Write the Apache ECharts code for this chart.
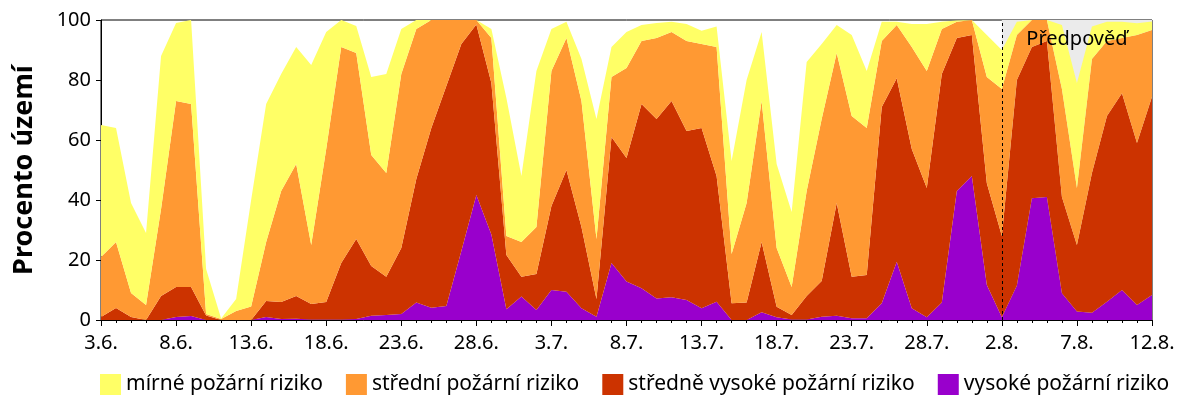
<!DOCTYPE html>
<html>
<head>
<meta charset="utf-8">
<script src="https://cdn.jsdelivr.net/npm/echarts@6/dist/echarts.min.js"></script>
<style>
  html, body { margin: 0; padding: 0; background: #fff; }
  #chart { width: 1200px; height: 400px; }
</style>
</head>
<body>
<div id="chart"></div>
<script>
// dny 3.6. - 12.8.
const days = [
  '3.6.', '4.6.', '5.6.', '6.6.', '7.6.', '8.6.', '9.6.', '10.6.', '11.6.', '12.6.',
  '13.6.', '14.6.', '15.6.', '16.6.', '17.6.', '18.6.', '19.6.', '20.6.', '21.6.', '22.6.',
  '23.6.', '24.6.', '25.6.', '26.6.', '27.6.', '28.6.', '29.6.', '30.6.', '1.7.', '2.7.',
  '3.7.', '4.7.', '5.7.', '6.7.', '7.7.', '8.7.', '9.7.', '10.7.', '11.7.', '12.7.',
  '13.7.', '14.7.', '15.7.', '16.7.', '17.7.', '18.7.', '19.7.', '20.7.', '21.7.', '22.7.',
  '23.7.', '24.7.', '25.7.', '26.7.', '27.7.', '28.7.', '29.7.', '30.7.', '31.7.', '1.8.',
  '2.8.', '3.8.', '4.8.', '5.8.', '6.8.', '7.8.', '8.8.', '9.8.', '10.8.', '11.8.',
  '12.8.'
];

// procento uzemi v jednotlivych stupnich (skladane odspodu)
const vysoke = [
  0, 0, 0, 0, 0, 1, 1.3, 0, 0, 0,
  0, 1, 0.3, 0.4, 0.2, 0.2, 0.2, 0.3, 1.4, 1.7,
  2, 5.8, 4.1, 4.7, 23, 41.7, 28.5, 3.6, 7.8, 3.3,
  10, 9.4, 3.9, 1.1, 19, 12.8, 10.6, 7.2, 7.6, 6.7,
  3.9, 6.1, 0, 0, 2.6, 0.9, 0.2, 0.2, 1.1, 1.4,
  0.6, 0.6, 5.6, 19.4, 3.9, 0.9, 5.8, 43, 48, 11.7,
  0.9, 11.5, 40.6, 41, 8.9, 2.8, 2.4, 6.1, 10, 5,
  8.3
];
const stredneVysoke = [
  1, 4, 1, 0, 8, 10, 9.7, 1.5, 0, 0,
  0, 5.3, 5.7, 7.6, 5.1, 5.8, 18.8, 26.7, 16.6, 12.7,
  22, 41.2, 59.9, 73.3, 69, 56.8, 50.5, 18.1, 6.6, 12,
  28, 40.6, 27.1, 5.9, 42, 41.2, 61.4, 59.8, 65.4, 56.3,
  60.1, 41.9, 5.6, 5.8, 23.4, 3.5, 1.5, 7.8, 11.9, 37.6,
  13.8, 14.4, 65.4, 61.2, 53.1, 43.1, 76.2, 51, 47, 33.9,
  27.1, 68.5, 50.4, 52, 32.1, 22.2, 46.6, 61.9, 65.6, 54,
  66.1
];
const stredni = [
  20, 22, 8, 5, 29, 62, 61, 0.5, 0.3, 3,
  4.5, 19.7, 37, 44, 19.7, 51, 72, 62, 37, 34.6,
  58, 50, 36, 22, 8, 1.5, 15, 6.3, 11.6, 15.7,
  45, 44, 42, 20, 20, 30, 21, 27, 23, 30,
  28, 43, 16.4, 33.2, 47, 19.6, 9.3, 35, 54, 50,
  53.6, 49, 22, 17.7, 34, 39, 15, 5.4, 5, 35.4,
  49, 15, 9, 7, 36, 19, 38, 25, 18.4, 36,
  22.3
];
const mirne = [
  44, 38, 30, 24, 51, 26, 28, 15, 0.2, 4,
  35.5, 46, 39, 39, 60, 39, 9, 9, 26, 33,
  15, 3, 0, 0, 0, 0, 3, 46, 22, 52,
  14, 5.4, 14, 40, 10, 12, 5.3, 5, 3.4, 5.7,
  4.4, 6.8, 31, 41, 23, 28, 25, 43, 25, 9.3,
  27, 19, 6.4, 1.1, 7.7, 15.7, 2.4, 0.4, 0, 14,
  13, 4.4, 0, 0, 21.3, 35, 10.8, 6.4, 5.4, 3.9,
  2.8
];

const yTicks = [0, 20, 40, 60, 80, 100];
const forecastFrom = '2.8.';
const forecastTo = '12.8.';

const font = 'Noto Sans';

function areaSeries(name, data, color) {
  return {
    name: name,
    type: 'line',
    stack: 'uzemi',
    data: data,
    symbol: 'none',
    z: 2,
    lineStyle: { width: 0 },
    areaStyle: { color: color, opacity: 1 },
    itemStyle: { color: color },
    emphasis: { disabled: true }
  };
}

const chart = echarts.init(document.getElementById('chart'));
chart.setOption({
  animation: false,
  textStyle: { fontFamily: font },
  grid: {
    left: 101, right: 48, top: 20, bottom: 80,
    show: true, borderColor: '#000', borderWidth: 1, backgroundColor: 'transparent'
  },
  legend: {
    data: ['mírné požární riziko', 'střední požární riziko', 'středně vysoké požární riziko', 'vysoké požární riziko'],
    left: 95, bottom: 0,
    itemWidth: 21, itemHeight: 21, itemGap: 23,
    icon: 'rect',
    textStyle: { fontSize: 21, color: '#000', fontFamily: font }
  },
  xAxis: [
    {
      type: 'category',
      data: days,
      boundaryGap: false,
      axisLine: { lineStyle: { color: '#000', width: 1 } },
      axisTick: { interval: 0, length: 3, lineStyle: { color: '#000' } },
      axisLabel: { interval: 4, fontSize: 20, color: '#000', margin: 13 },
      splitLine: { show: false }
    },
    {
      type: 'category',
      data: days,
      boundaryGap: false,
      position: 'bottom',
      axisLine: { show: false },
      axisTick: { interval: 4, length: 6, lineStyle: { color: '#000' } },
      axisLabel: { show: false },
      splitLine: { show: false }
    }
  ],
  yAxis: {
    type: 'value',
    min: yTicks[0], max: yTicks[yTicks.length - 1], interval: 20,
    name: 'Procento území',
    nameLocation: 'middle',
    nameGap: 63,
    nameTextStyle: { fontSize: 27, fontWeight: 'bold', color: '#000' },
    axisLine: { show: true, lineStyle: { color: '#000' } },
    axisTick: { show: true, length: 5, lineStyle: { color: '#000' } },
    axisLabel: { fontSize: 20, color: '#000', margin: 10 },
    splitLine: { show: false }
  },
  series: [
    {
      name: 'predpoved-pozadi',
      type: 'line',
      data: [],
      z: 1,
      silent: true,
      markArea: {
        silent: true,
        z: 1,
        itemStyle: { color: '#ebebeb' },
        data: [[{ xAxis: forecastFrom }, { xAxis: forecastTo }]]
      }
    },
    areaSeries('vysoké požární riziko', vysoke, '#9900cc'),
    areaSeries('středně vysoké požární riziko', stredneVysoke, '#cc3300'),
    areaSeries('střední požární riziko', stredni, '#ff9933'),
    areaSeries('mírné požární riziko', mirne, '#ffff66'),
    {
      name: 'predpoved',
      type: 'line',
      data: [],
      z: 5,
      silent: true,
      markLine: {
        silent: true,
        z: 6,
        symbol: 'none',
        label: { show: false },
        lineStyle: { color: '#000', type: [3, 3], width: 1 },
        data: [{ xAxis: forecastFrom }]
      },
      markArea: {
        silent: true,
        z: 7,
        itemStyle: { color: 'transparent' },
        label: { show: true, position: 'insideTop', distance: 9, color: '#000', fontSize: 20, fontFamily: font },
        data: [[{ name: 'Předpověď', xAxis: forecastFrom }, { xAxis: forecastTo }]]
      }
    }
  ]
});
</script>
</body>
</html>
